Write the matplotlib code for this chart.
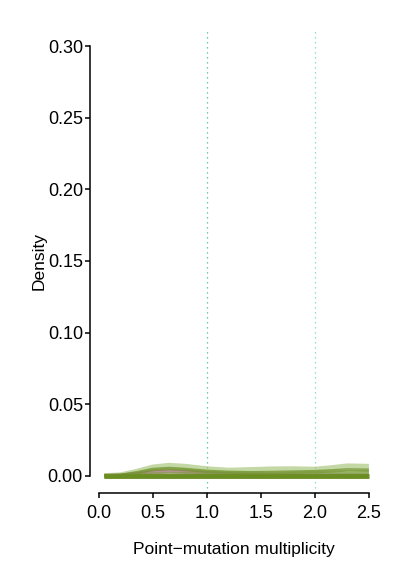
import numpy as np
import matplotlib
matplotlib.use("Agg")
from matplotlib import pyplot as plt

plt.rcParams['font.family'] = ['Liberation Sans', 'DejaVu Sans']

# density estimates, one list per sample
grid = [0.05, 0.2, 0.35, 0.5, 0.65, 0.8, 1.0, 1.2, 1.4, 1.6, 1.8, 2.0, 2.15, 2.3, 2.5]
dens_light = [0.0, 0.0005, 0.003, 0.006, 0.0072, 0.0065, 0.0048, 0.0038, 0.0042, 0.0047, 0.0048, 0.0045, 0.0055, 0.0068, 0.0065]
dens_olive = [0.0, 0.0004, 0.0022, 0.0045, 0.0052, 0.0045, 0.0032, 0.0025, 0.0022, 0.0024, 0.0027, 0.003, 0.0035, 0.0042, 0.004]
dens_mid = [0.0, 0.0003, 0.0015, 0.0032, 0.004, 0.0035, 0.0025, 0.002, 0.0017, 0.0012, 0.0016, 0.002, 0.0022, 0.0028, 0.003]
dens_pink = [0.0, 0.0002, 0.0012, 0.0026, 0.0032, 0.0028, 0.0018, 0.001, 0.0006, 0.0004, 0.0003, 0.0003, 0.0003, 0.0003, 0.0003]
dens_flat = [0.0, 0.0001, 0.0005, 0.001, 0.0012, 0.0012, 0.0011, 0.001, 0.0009, 0.001, 0.0011, 0.0012, 0.0013, 0.0014, 0.0014]
dens_base = [0.0] * len(grid)

vlines = [1.0, 2.0]
vline_colors = ['#3fbf85', '#6fd8c8']

fig = plt.figure(figsize=(4.05, 5.69), dpi=100)
ax = fig.add_axes([0.222, 0.1336, 0.711, 0.8155])

for x, c in zip(vlines, vline_colors):
    ax.axvline(x, color=c, linestyle=(0, (1, 3)), linewidth=0.9)

ax.plot(grid, dens_light, color='#9bbf6a', linewidth=4, alpha=0.6, solid_capstyle='butt')
ax.plot(grid, dens_mid, color='#a8c880', linewidth=3, alpha=0.7, solid_capstyle='butt')
ax.plot(grid, dens_pink, color='#b0808a', linewidth=3, alpha=0.8, solid_capstyle='butt')
ax.plot(grid, dens_olive, color='#6b8e23', linewidth=2.5, alpha=0.7, solid_capstyle='butt')
ax.plot(grid, dens_flat, color='#7a9a3a', linewidth=3, alpha=0.6, solid_capstyle='butt')
ax.plot(grid, dens_base, color='#6b8e23', linewidth=3.5, solid_capstyle='butt')

ax.set_xlim(-0.083, 2.583)
ax.set_ylim(-0.0119, 0.3119)
ax.set_xticks([0.0, 0.5, 1.0, 1.5, 2.0, 2.5])
ax.set_xticklabels(['0.0', '0.5', '1.0', '1.5', '2.0', '2.5'])
ax.set_yticks([0.0, 0.05, 0.10, 0.15, 0.20, 0.25, 0.30])
ax.set_yticklabels(['0.00', '0.05', '0.10', '0.15', '0.20', '0.25', '0.30'])

for side in ['top', 'right']:
    ax.spines[side].set_visible(False)
ax.spines['left'].set_bounds(0, 0.3)
ax.spines['bottom'].set_bounds(0, 2.5)
for side in ['left', 'bottom']:
    ax.spines[side].set_linewidth(1.1)
ax.tick_params(axis='both', length=3.5, width=1.1, labelsize=13, colors='black', pad=1.5)
ax.tick_params(axis='x', pad=5)

ax.set_xlabel('Point\u2212mutation multiplicity', fontsize=12.5)
ax.set_ylabel('Density', fontsize=12.5)
ax.yaxis.set_label_coords(-0.15, 0.5)
ax.xaxis.set_label_coords(0.5, -0.105)

fig.savefig('out.png', dpi=100)
